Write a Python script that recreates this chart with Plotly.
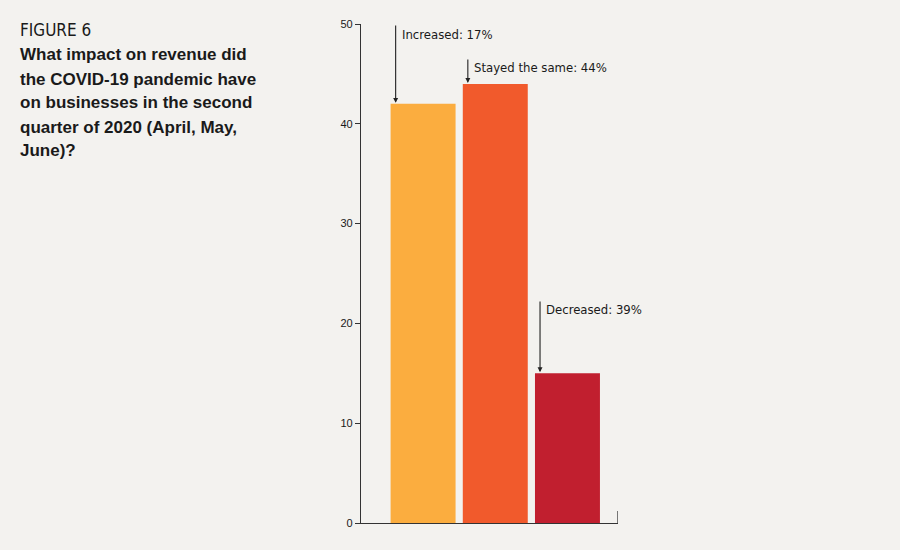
import plotly.graph_objects as go

categories = ["Increased", "Stayed the same", "Decreased"]
bar_values = [42, 44, 15]
label_texts = ["Increased: 17%", "Stayed the same: 44%", "Decreased: 39%"]
bar_colors = ["#FBAD3F", "#F15A2C", "#C11F2F"]
y_ticks = [0, 10, 20, 30, 40, 50]
x_pos = [1, 2, 3]
title_small = "FIGURE 6"
title_lines = ["What impact on revenue did", "the COVID-19 pandemic have",
               "on businesses in the second", "quarter of 2020 (April, May,", "June)?"]

BG = "#F3F2EF"
W, H = 900, 550
Y0_PX, Y50_PX = 523, 24
PX_PER_UNIT = (Y0_PX - Y50_PX) / 50.0
COND = "Liberation Sans Narrow, DejaVu Sans Condensed, sans-serif"

fig = go.Figure()
fig.add_trace(go.Bar(
    x=x_pos, y=bar_values, width=0.9,
    marker=dict(color=bar_colors, line=dict(width=0)),
    hoverinfo="skip", showlegend=False,
))

# arrow annotations (layout positions in pixels)
arrow_start_px = [24, 58, 300]
label_center_px = [34, 67, 309]
for i, (xv, yv, txt) in enumerate(zip(x_pos, bar_values, label_texts)):
    top_px = Y0_PX - yv * PX_PER_UNIT
    fig.add_annotation(
        x=xv - 0.38, y=yv, xref="x", yref="y",
        ax=0, ay=arrow_start_px[i] - top_px,
        showarrow=True, arrowhead=2, arrowsize=0.9, arrowwidth=1.1,
        arrowcolor="#222222", text="", standoff=1,
    )
    fig.add_annotation(
        x=xv - 0.38, y=yv, xref="x", yref="y",
        xshift=4, yshift=top_px - label_center_px[i],
        text=txt, showarrow=False, xanchor="left", yanchor="middle",
        font=dict(family=COND, size=13, color="#1a1a1a"),
    )

# right end tick of x axis
fig.add_shape(type="line", xref="x", yref="y", x0=3.70, x1=3.70, y0=0, y1=1.2,
              line=dict(color="#333333", width=1.3))

# Title text
fig.add_annotation(
    xref="paper", yref="paper", x=18 / W, y=1 - 30 / H, xanchor="left", yanchor="middle",
    text=title_small, showarrow=False,
    font=dict(family=COND, size=17, color="#1a1a1a"),
)
line_centers = [55, 79, 103, 127, 150]
for ln, cy in zip(title_lines, line_centers):
    fig.add_annotation(
        xref="paper", yref="paper", x=18 / W, y=1 - cy / H, xanchor="left", yanchor="middle",
        text="<b>" + ln + "</b>", showarrow=False,
        font=dict(family="Liberation Sans, Arial, sans-serif", size=17, color="#1a1a1a"),
    )

fig.update_layout(
    width=W, height=H,
    margin=dict(l=0, r=0, t=0, b=0),
    paper_bgcolor=BG, plot_bgcolor=BG,
    xaxis=dict(
        domain=[361 / W, 618 / W], range=[0.14, 3.70], automargin=False,
        showgrid=False, zeroline=False, showticklabels=False, ticks="",
        showline=True, linecolor="#333333", linewidth=1.3,
    ),
    yaxis=dict(
        domain=[1 - Y0_PX / H, 1 - Y50_PX / H], range=[0, 50], automargin=False,
        tickvals=y_ticks, ticks="outside", ticklen=5, tickcolor="#333333",
        showgrid=False, zeroline=False,
        showline=True, linecolor="#333333", linewidth=1.3,
        tickfont=dict(family="Liberation Sans, Arial, sans-serif", size=11, color="#1a1a1a"),
    ),
)

fig.write_html("out.html")
